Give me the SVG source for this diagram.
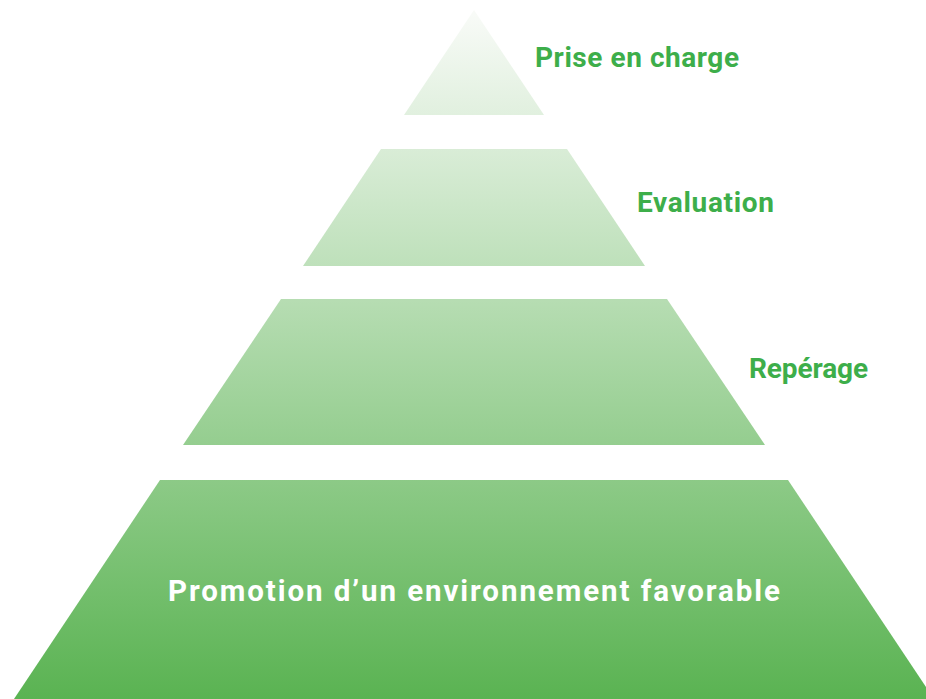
<svg xmlns="http://www.w3.org/2000/svg" width="926" height="699" viewBox="0 0 926 699">
<defs>
<linearGradient id="g" gradientUnits="userSpaceOnUse" x1="0" y1="10" x2="0" y2="699">
<stop offset="0" stop-color="#f9fbf8"/>
<stop offset="1" stop-color="#5ab352"/>
</linearGradient>
<style>
.tier{fill:url(#g);}
.lbl{font-family:Roboto,"Liberation Sans",sans-serif;font-weight:bold;fill:#3dae4a;font-size:28px;}
.main{font-family:Roboto,"Liberation Sans",sans-serif;font-weight:bold;fill:#ffffff;font-size:29.5px;}
</style>
</defs>
<rect width="926" height="699" fill="#ffffff"/>
<g id="tier1">
<polygon class="tier" points="474,10 544,115 404,115"/>
<text class="lbl" x="535" y="67" textLength="204" lengthAdjust="spacing">Prise en charge</text>
</g>
<g id="tier2">
<polygon class="tier" points="381,149 567,149 645,266 303,266"/>
<text class="lbl" x="637" y="212" textLength="137" lengthAdjust="spacing">Evaluation</text>
</g>
<g id="tier3">
<polygon class="tier" points="281,299 667,299 765,445 183,445"/>
<text class="lbl" x="749" y="378" textLength="119" lengthAdjust="spacing">Repérage</text>
</g>
<g id="tier4">
<polygon class="tier" points="160,480 788,480 934,699 14,699"/>
<text class="main" x="168" y="601" textLength="612" lengthAdjust="spacing">Promotion d’un environnement favorable</text>
</g>
</svg>
